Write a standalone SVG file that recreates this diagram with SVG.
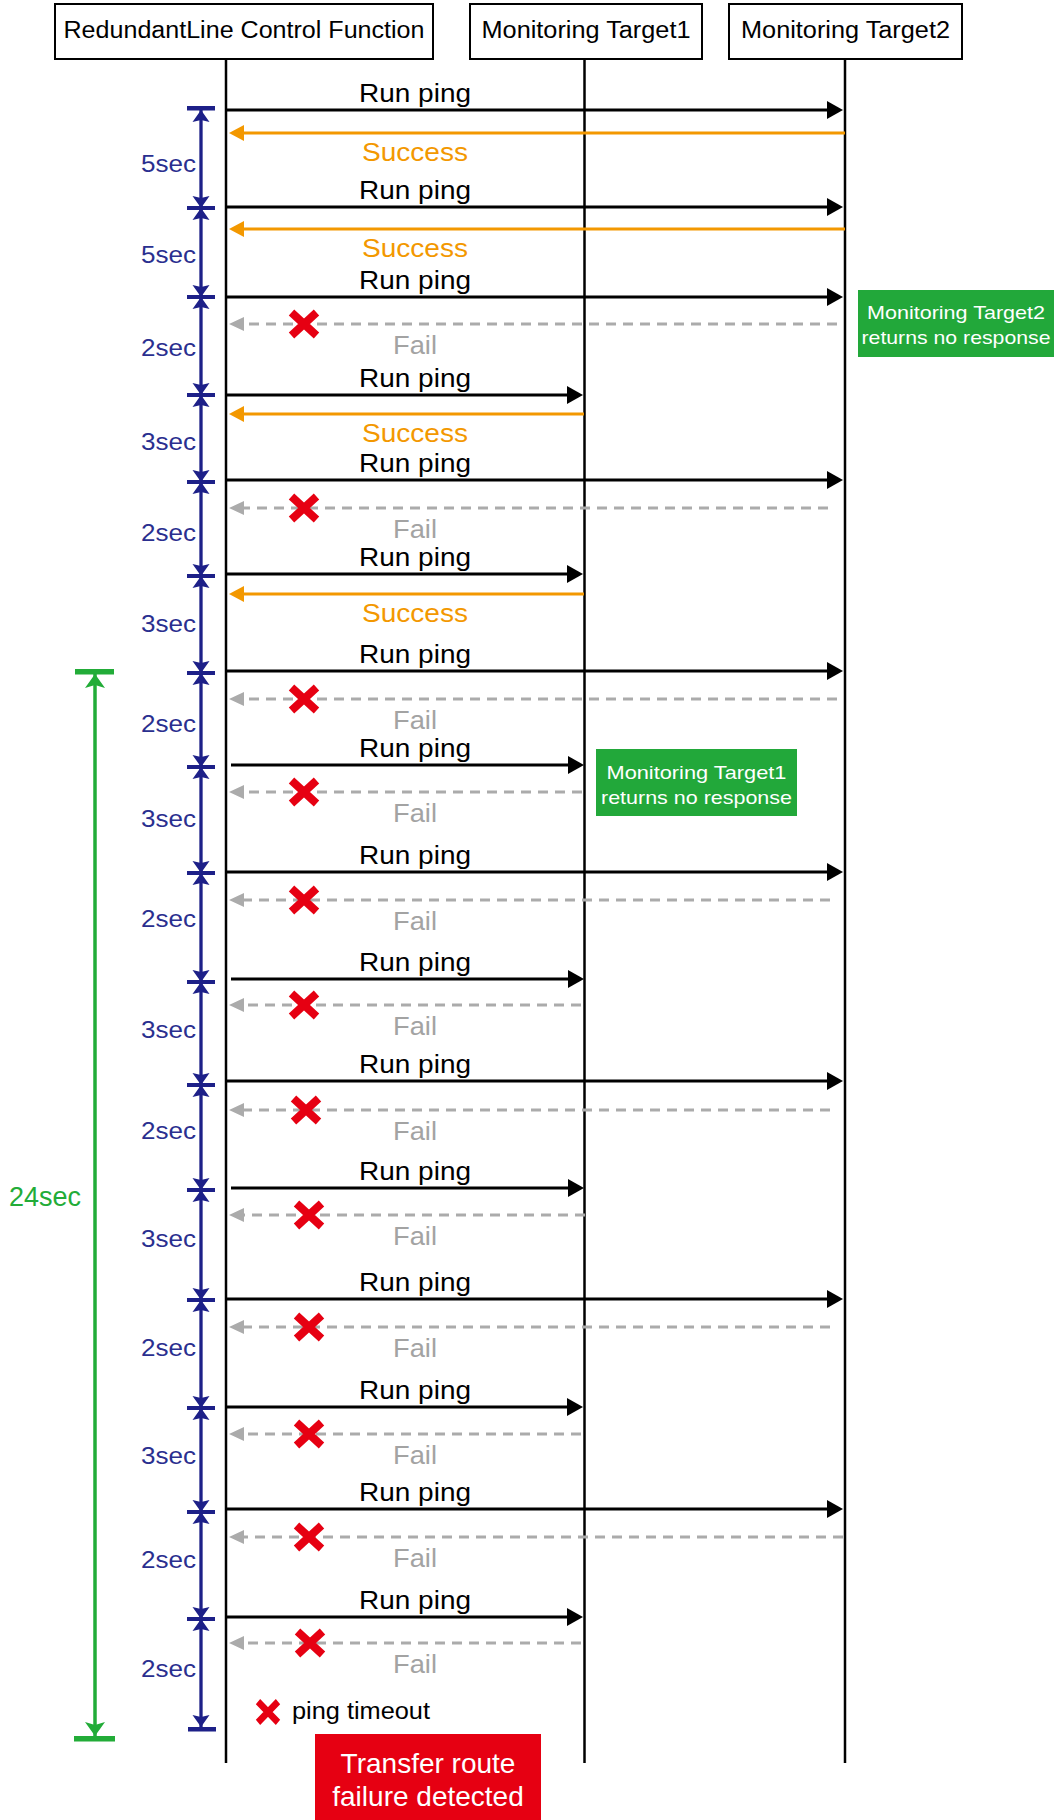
<svg xmlns="http://www.w3.org/2000/svg" xmlns:xlink="http://www.w3.org/1999/xlink" width="1058" height="1820" viewBox="0 0 1058 1820">
<style>
text{font-family:"Liberation Sans",Arial,sans-serif}
.hdr{font-size:23px;fill:#000;text-anchor:middle}
.ping{font-size:26px;fill:#000;text-anchor:middle}
.ok{font-size:26px;fill:#f39800;text-anchor:middle}
.fail{font-size:26px;fill:#a3a3a3;text-anchor:middle}
.sec{font-size:24px;fill:#2a2f8f;text-anchor:end}
.note{font-size:19px;fill:#fff;text-anchor:middle}
.box{fill:#fff;stroke:#000;stroke-width:2}
.life{stroke:#000;stroke-width:2.5}
.req{stroke:#000;stroke-width:3;fill:none;marker-end:url(#ah)}
.suc{stroke:#f39800;stroke-width:3;fill:none;marker-end:url(#ao)}
.nr{stroke:#ababab;stroke-width:3;fill:none;stroke-dasharray:10 7;marker-end:url(#ag)}
.blue{stroke:#1d2088;stroke-width:3.3}
.green{stroke:#22ac38;stroke-width:3.5}
</style>
<defs>
<marker id="ah" markerUnits="userSpaceOnUse" markerWidth="16" markerHeight="18" refX="6" refY="9" orient="auto"><path d="M0,0 L16,9 L0,18 Z" fill="#000"/></marker>
<marker id="ao" markerUnits="userSpaceOnUse" markerWidth="15" markerHeight="16" refX="5" refY="8" orient="auto"><path d="M0,0 L15,8 L0,16 Z" fill="#f39800"/></marker>
<marker id="ag" markerUnits="userSpaceOnUse" markerWidth="15" markerHeight="14" refX="5" refY="7" orient="auto"><path d="M0,0 L15,7 L0,14 Z" fill="#ababab"/></marker>
<g id="tick" fill="#1d2088"><rect x="-14" y="-2" width="28" height="4"/><path d="M0,0 L8.5,-12 L0,-10 L-8.5,-12 Z M0,0 L8.5,12 L0,10 L-8.5,12 Z"/></g>
<path id="x" d="M-12.5,-11.5 L12.5,11.5 M12.5,-11.5 L-12.5,11.5" stroke="#e60012" stroke-width="8" fill="none"/>
</defs>
<rect width="1058" height="1820" fill="#fff"/>

<g id="node-redundantline">
<rect class="box" x="55" y="4" width="378" height="55"/>
<text class="hdr" x="244" y="38" textLength="361" lengthAdjust="spacingAndGlyphs">RedundantLine Control Function</text>
<line class="life" x1="226" y1="59" x2="226" y2="1763"/>
</g>
<g id="node-target1">
<rect class="box" x="470" y="4" width="232" height="55"/>
<text class="hdr" x="586" y="38" textLength="209" lengthAdjust="spacingAndGlyphs">Monitoring Target1</text>
<line class="life" x1="584.5" y1="59" x2="584.5" y2="1763"/>
</g>
<g id="node-target2">
<rect class="box" x="729" y="4" width="233" height="55"/>
<text class="hdr" x="845.5" y="38" textLength="209" lengthAdjust="spacingAndGlyphs">Monitoring Target2</text>
<line class="life" x1="845" y1="59" x2="845" y2="1763"/>
</g>

<g id="interval-scale">
<line class="blue" x1="201" y1="109" x2="201" y2="1729"/>
<rect x="187" y="106" width="28" height="4.5" fill="#1d2088"/>
<path d="M201,110 L209.5,122 L201,120 L192.5,122 Z" fill="#1d2088"/>
<rect x="188" y="1727" width="28" height="4.5" fill="#1d2088"/>
<path d="M201,1727 L209.5,1715 L201,1717 L192.5,1715 Z" fill="#1d2088"/>
<use xlink:href="#tick" x="201" y="208"/>
<use xlink:href="#tick" x="201" y="297"/>
<use xlink:href="#tick" x="201" y="395"/>
<use xlink:href="#tick" x="201" y="482"/>
<use xlink:href="#tick" x="201" y="576"/>
<use xlink:href="#tick" x="201" y="673"/>
<use xlink:href="#tick" x="201" y="767"/>
<use xlink:href="#tick" x="201" y="873"/>
<use xlink:href="#tick" x="201" y="982"/>
<use xlink:href="#tick" x="201" y="1085"/>
<use xlink:href="#tick" x="201" y="1190"/>
<use xlink:href="#tick" x="201" y="1300"/>
<use xlink:href="#tick" x="201" y="1408"/>
<use xlink:href="#tick" x="201" y="1512"/>
<use xlink:href="#tick" x="201" y="1619"/>
<text class="sec" x="196" y="172" textLength="55" lengthAdjust="spacingAndGlyphs">5sec</text>
<text class="sec" x="196" y="263" textLength="55" lengthAdjust="spacingAndGlyphs">5sec</text>
<text class="sec" x="196" y="356" textLength="55" lengthAdjust="spacingAndGlyphs">2sec</text>
<text class="sec" x="196" y="450" textLength="55" lengthAdjust="spacingAndGlyphs">3sec</text>
<text class="sec" x="196" y="541" textLength="55" lengthAdjust="spacingAndGlyphs">2sec</text>
<text class="sec" x="196" y="632" textLength="55" lengthAdjust="spacingAndGlyphs">3sec</text>
<text class="sec" x="196" y="732" textLength="55" lengthAdjust="spacingAndGlyphs">2sec</text>
<text class="sec" x="196" y="827" textLength="55" lengthAdjust="spacingAndGlyphs">3sec</text>
<text class="sec" x="196" y="927" textLength="55" lengthAdjust="spacingAndGlyphs">2sec</text>
<text class="sec" x="196" y="1038" textLength="55" lengthAdjust="spacingAndGlyphs">3sec</text>
<text class="sec" x="196" y="1139" textLength="55" lengthAdjust="spacingAndGlyphs">2sec</text>
<text class="sec" x="196" y="1247" textLength="55" lengthAdjust="spacingAndGlyphs">3sec</text>
<text class="sec" x="196" y="1356" textLength="55" lengthAdjust="spacingAndGlyphs">2sec</text>
<text class="sec" x="196" y="1464" textLength="55" lengthAdjust="spacingAndGlyphs">3sec</text>
<text class="sec" x="196" y="1568" textLength="55" lengthAdjust="spacingAndGlyphs">2sec</text>
<text class="sec" x="196" y="1677" textLength="55" lengthAdjust="spacingAndGlyphs">2sec</text>
</g>

<g id="total-scale">
<line class="green" x1="95" y1="672" x2="95" y2="1739"/>
<rect x="75" y="669" width="39" height="5.5" fill="#22ac38"/>
<path d="M95,674 L105,688 L95,685 L85,688 Z" fill="#22ac38"/>
<rect x="74" y="1736" width="41" height="5.5" fill="#22ac38"/>
<path d="M95,1736 L105,1722 L95,1725 L85,1722 Z" fill="#22ac38"/>
<text x="45" y="1206" font-size="27" fill="#22ac38" text-anchor="middle">24sec</text>
</g>

<g id="connectors">
<line class="req" x1="227" y1="110" x2="833" y2="110"/>
<line class="suc" x1="845" y1="133" x2="239" y2="133"/>
<line class="req" x1="227" y1="207" x2="833" y2="207"/>
<line class="suc" x1="845" y1="229" x2="239" y2="229"/>
<line class="req" x1="227" y1="297" x2="833" y2="297"/>
<line class="nr" x1="837" y1="324" x2="239" y2="324"/>
<line class="req" x1="227" y1="395" x2="573" y2="395"/>
<line class="suc" x1="584" y1="414" x2="239" y2="414"/>
<line class="req" x1="227" y1="480" x2="833" y2="480"/>
<line class="nr" x1="828" y1="508" x2="239" y2="508"/>
<line class="req" x1="227" y1="574" x2="573" y2="574"/>
<line class="suc" x1="584" y1="594" x2="239" y2="594"/>
<line class="req" x1="227" y1="671" x2="833" y2="671"/>
<line class="nr" x1="837" y1="699" x2="239" y2="699"/>
<line class="req" x1="231" y1="765" x2="574" y2="765"/>
<line class="nr" x1="582" y1="792" x2="239" y2="792"/>
<line class="req" x1="227" y1="872" x2="833" y2="872"/>
<line class="nr" x1="830" y1="900" x2="239" y2="900"/>
<line class="req" x1="231" y1="979" x2="574" y2="979"/>
<line class="nr" x1="581" y1="1005" x2="239" y2="1005"/>
<line class="req" x1="227" y1="1081" x2="833" y2="1081"/>
<line class="nr" x1="830" y1="1110" x2="239" y2="1110"/>
<line class="req" x1="231" y1="1188" x2="574" y2="1188"/>
<line class="nr" x1="585" y1="1215" x2="239" y2="1215"/>
<line class="req" x1="227" y1="1299" x2="833" y2="1299"/>
<line class="nr" x1="830" y1="1327" x2="239" y2="1327"/>
<line class="req" x1="227" y1="1407" x2="573" y2="1407"/>
<line class="nr" x1="581" y1="1434" x2="239" y2="1434"/>
<line class="req" x1="227" y1="1509" x2="833" y2="1509"/>
<line class="nr" x1="843" y1="1537" x2="239" y2="1537"/>
<line class="req" x1="227" y1="1617" x2="573" y2="1617"/>
<line class="nr" x1="581" y1="1643" x2="239" y2="1643"/>
</g>

<g id="message-labels">
<text class="ping" x="415" y="102" textLength="112" lengthAdjust="spacingAndGlyphs">Run ping</text>
<text class="ok" x="415" y="161" textLength="106" lengthAdjust="spacingAndGlyphs">Success</text>
<text class="ping" x="415" y="199" textLength="112" lengthAdjust="spacingAndGlyphs">Run ping</text>
<text class="ok" x="415" y="257" textLength="106" lengthAdjust="spacingAndGlyphs">Success</text>
<text class="ping" x="415" y="289" textLength="112" lengthAdjust="spacingAndGlyphs">Run ping</text>
<text class="fail" x="415" y="354" textLength="44" lengthAdjust="spacingAndGlyphs">Fail</text>
<text class="ping" x="415" y="387" textLength="112" lengthAdjust="spacingAndGlyphs">Run ping</text>
<text class="ok" x="415" y="442" textLength="106" lengthAdjust="spacingAndGlyphs">Success</text>
<text class="ping" x="415" y="472" textLength="112" lengthAdjust="spacingAndGlyphs">Run ping</text>
<text class="fail" x="415" y="538" textLength="44" lengthAdjust="spacingAndGlyphs">Fail</text>
<text class="ping" x="415" y="566" textLength="112" lengthAdjust="spacingAndGlyphs">Run ping</text>
<text class="ok" x="415" y="622" textLength="106" lengthAdjust="spacingAndGlyphs">Success</text>
<text class="ping" x="415" y="663" textLength="112" lengthAdjust="spacingAndGlyphs">Run ping</text>
<text class="fail" x="415" y="729" textLength="44" lengthAdjust="spacingAndGlyphs">Fail</text>
<text class="ping" x="415" y="757" textLength="112" lengthAdjust="spacingAndGlyphs">Run ping</text>
<text class="fail" x="415" y="822" textLength="44" lengthAdjust="spacingAndGlyphs">Fail</text>
<text class="ping" x="415" y="864" textLength="112" lengthAdjust="spacingAndGlyphs">Run ping</text>
<text class="fail" x="415" y="930" textLength="44" lengthAdjust="spacingAndGlyphs">Fail</text>
<text class="ping" x="415" y="971" textLength="112" lengthAdjust="spacingAndGlyphs">Run ping</text>
<text class="fail" x="415" y="1035" textLength="44" lengthAdjust="spacingAndGlyphs">Fail</text>
<text class="ping" x="415" y="1073" textLength="112" lengthAdjust="spacingAndGlyphs">Run ping</text>
<text class="fail" x="415" y="1140" textLength="44" lengthAdjust="spacingAndGlyphs">Fail</text>
<text class="ping" x="415" y="1180" textLength="112" lengthAdjust="spacingAndGlyphs">Run ping</text>
<text class="fail" x="415" y="1245" textLength="44" lengthAdjust="spacingAndGlyphs">Fail</text>
<text class="ping" x="415" y="1291" textLength="112" lengthAdjust="spacingAndGlyphs">Run ping</text>
<text class="fail" x="415" y="1357" textLength="44" lengthAdjust="spacingAndGlyphs">Fail</text>
<text class="ping" x="415" y="1399" textLength="112" lengthAdjust="spacingAndGlyphs">Run ping</text>
<text class="fail" x="415" y="1464" textLength="44" lengthAdjust="spacingAndGlyphs">Fail</text>
<text class="ping" x="415" y="1501" textLength="112" lengthAdjust="spacingAndGlyphs">Run ping</text>
<text class="fail" x="415" y="1567" textLength="44" lengthAdjust="spacingAndGlyphs">Fail</text>
<text class="ping" x="415" y="1609" textLength="112" lengthAdjust="spacingAndGlyphs">Run ping</text>
<text class="fail" x="415" y="1673" textLength="44" lengthAdjust="spacingAndGlyphs">Fail</text>
</g>

<g id="timeouts">
<use xlink:href="#x" x="304" y="324"/>
<use xlink:href="#x" x="304" y="508"/>
<use xlink:href="#x" x="304" y="699"/>
<use xlink:href="#x" x="304" y="792"/>
<use xlink:href="#x" x="304" y="900"/>
<use xlink:href="#x" x="304" y="1005"/>
<use xlink:href="#x" x="306" y="1110"/>
<use xlink:href="#x" x="309" y="1215"/>
<use xlink:href="#x" x="309" y="1327"/>
<use xlink:href="#x" x="309" y="1434"/>
<use xlink:href="#x" x="309" y="1537"/>
<use xlink:href="#x" x="310" y="1643"/>
</g>

<g id="note-target2">
<rect x="858" y="290" width="196" height="67" fill="#22a83a"/>
<text class="note" x="956" y="319" textLength="178" lengthAdjust="spacingAndGlyphs">Monitoring Target2</text>
<text class="note" x="956" y="344" textLength="189" lengthAdjust="spacingAndGlyphs">returns no response</text>
</g>
<g id="note-target1">
<rect x="596" y="749" width="201" height="67" fill="#22a83a"/>
<text class="note" x="696.5" y="779" textLength="180" lengthAdjust="spacingAndGlyphs">Monitoring Target1</text>
<text class="note" x="696.5" y="804" textLength="191" lengthAdjust="spacingAndGlyphs">returns no response</text>
</g>

<g id="legend">
<g transform="translate(268,1712) scale(0.8,0.9)"><use xlink:href="#x"/></g>
<text x="292" y="1719" font-size="23" fill="#000" textLength="138" lengthAdjust="spacingAndGlyphs">ping timeout</text>
</g>

<g id="note-detected">
<rect x="315" y="1734" width="226" height="86" fill="#e60012"/>
<text x="428" y="1773" font-size="28" fill="#fff" text-anchor="middle">Transfer route</text>
<text x="428" y="1806" font-size="28" fill="#fff" text-anchor="middle">failure detected</text>
</g>
</svg>
